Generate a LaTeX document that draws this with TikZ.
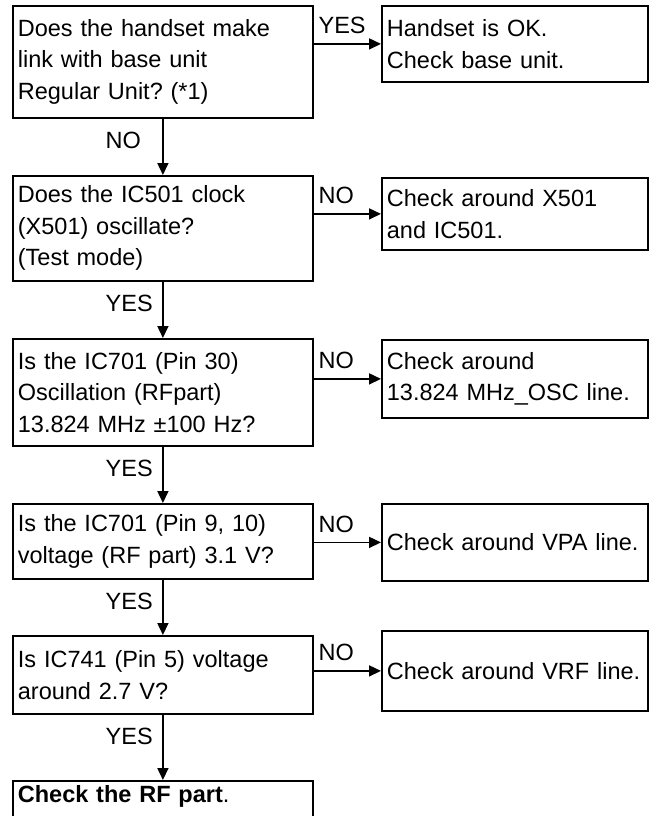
\documentclass[tikz,border=0pt]{standalone}
\usepackage{fontspec}
\setmainfont{Liberation Sans}
\usetikzlibrary{arrows.meta}
\frenchspacing
\tikzset{
    qbox/.style={rectangle, draw, line width=1.8pt, anchor=north west, align=left, text width=290pt, inner xsep=5pt, inner ysep=0pt},
    abox/.style={qbox, text width=256pt, inner xsep=5pt},
    edge/.style={draw, line width=1.6pt, -{Triangle[length=12pt, width=11pt]}},
    ans/.style={inner sep=2pt}
}

\begin{document}
\begin{tikzpicture}[x=1pt, y=-1pt, font=\fontsize{23.5}{31.5}\selectfont]
    \useasboundingbox (0,0) rectangle (653,816);
    \clip (0,0) rectangle (653,816);

    % Nodes
    \node[qbox, minimum height=112pt] (q1) at (12,5) {Does the handset make\\link with base unit\\Regular Unit? (*1)};
    \node[qbox, minimum height=105pt] (q2) at (12,175) {Does the IC501 clock\\(X501) oscillate?\\(Test mode)};
    \node[qbox, minimum height=107pt] (q3) at (12,338) {Is the IC701 (Pin 30)\\Oscillation (RFpart)\\13.824 MHz ±100 Hz?};
    \node[qbox, minimum height=75pt] (q4) at (12,503) {Is the IC701 (Pin 9, 10)\\voltage (RF part) 3.1 V?};
    \node[qbox, minimum height=78pt] (q5) at (12,635) {Is IC741 (Pin 5) voltage\\around 2.7 V?};
    \node[qbox, inner ysep=5pt, text height=17pt, text depth=40pt] (rf) at (12,780) {\textbf{Check the RF part}.};

    \node[abox, minimum height=76pt] (c1) at (381,5) {Handset is OK.\\Check base unit.};
    \node[abox, minimum height=72pt] (c2) at (381,177) {Check around X501\\and IC501.};
    \node[abox, minimum height=78pt] (c3) at (381,339) {Check around\\13.824 MHz\_OSC line.};
    \node[abox, minimum height=77pt] (c4) at (381,503) {Check around VPA line.};
    \node[abox, minimum height=80pt] (c5) at (381,630) {Check around VRF line.};

    % edges
    \draw[edge] (q1) -- node[ans, pos=0, anchor=north west, xshift=-60pt, yshift=-10pt] {NO} (q2);
    \draw[edge] (q2) -- node[ans, pos=0, anchor=north west, xshift=-60pt, yshift=-10pt] {YES} (q3);
    \draw[edge] (q3) -- node[ans, pos=0, anchor=north west, xshift=-60pt, yshift=-10pt] {YES} (q4);
    \draw[edge] (q4) -- node[ans, pos=0, anchor=north west, xshift=-60pt, yshift=-10pt] {YES} (q5);
    \draw[edge] (q5) -- node[ans, pos=0, anchor=north west, xshift=-60pt, yshift=-10pt] {YES} (rf);

    \draw[edge] (c1.west -| q1.east) -- node[ans, pos=0, anchor=south west, xshift=2pt, yshift=7pt] {YES} (c1.west);
    \draw[edge] (c2.west -| q2.east) -- node[ans, pos=0, anchor=south west, xshift=2pt, yshift=7pt] {NO} (c2.west);
    \draw[edge] (c3.west -| q3.east) -- node[ans, pos=0, anchor=south west, xshift=2pt, yshift=7pt] {NO} (c3.west);
    \draw[edge] (c4.west -| q4.east) -- node[ans, pos=0, anchor=south west, xshift=2pt, yshift=7pt] {NO} (c4.west);
    \draw[edge] (c5.west -| q5.east) -- node[ans, pos=0, anchor=south west, xshift=2pt, yshift=7pt] {NO} (c5.west);
\end{tikzpicture}
\end{document}
